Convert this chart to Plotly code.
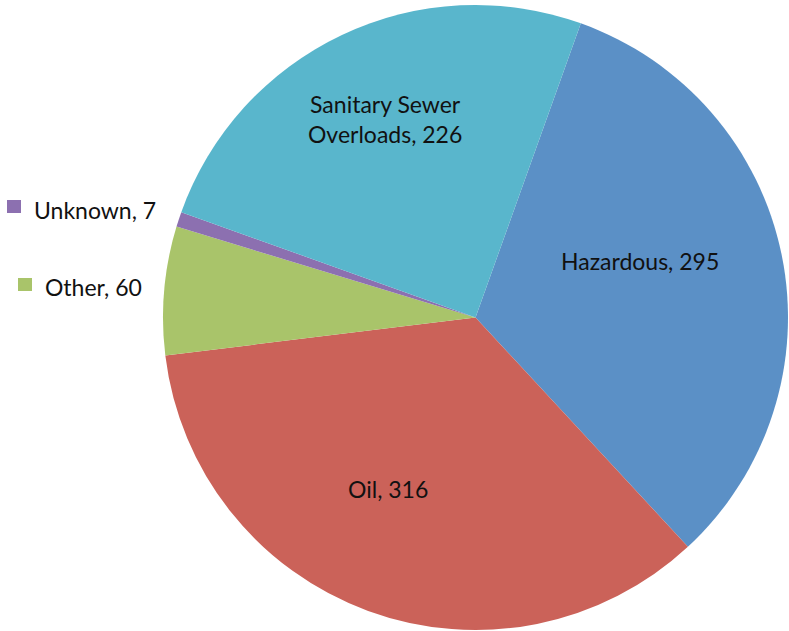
import plotly.graph_objects as go

categories = ["Hazardous", "Oil", "Other", "Unknown", "Sanitary Sewer Overloads"]
values = [295, 316, 60, 7, 226]
colors = ["#5B90C6", "#CB6259", "#A9C46A", "#8C70B0", "#59B6CC"]

W, H = 789, 631
FONT = "Lato, Carlito, Calibri, sans-serif"
FS = 23

fig = go.Figure(go.Pie(
    labels=categories,
    values=values,
    marker=dict(colors=colors, line=dict(width=0)),
    sort=False,
    direction="clockwise",
    rotation=19.7,
    textinfo="none",
    hoverinfo="label+value",
    domain=dict(x=[163 / W, 788 / W], y=[1 - 630 / H, 1 - 5 / H]),
    showlegend=False,
))

def px(x, y):
    return x / W, 1 - y / H

annotations = []
inside = [
    (640, 261, f"{categories[0]}, {values[0]}"),
    (388, 489, f"{categories[1]}, {values[1]}"),
    (385, 119, f"Sanitary Sewer<br>Overloads, {values[4]}"),
]
for x, y, t in inside:
    ax, ay = px(x, y)
    annotations.append(dict(x=ax, y=ay, xref="paper", yref="paper", text=t,
                            showarrow=False, xanchor="center", yanchor="middle",
                            font=dict(family=FONT, size=FS, color="#111111")))

outside = [
    (32, 210, 7, 200, f"{categories[3]}, {values[3]}", colors[3]),
    (43, 287, 18, 278, f"{categories[2]}, {values[2]}", colors[2]),
]
shapes = []
for tx, ty, sx, sy, t, c in outside:
    ax, ay = px(tx, ty)
    annotations.append(dict(x=ax, y=ay, xref="paper", yref="paper", text=t,
                            showarrow=False, xanchor="left", yanchor="middle",
                            font=dict(family=FONT, size=FS, color="#111111")))
    x0, y1 = px(sx, sy)
    x1, y0 = px(sx + 14, sy + 13)
    shapes.append(dict(type="rect", xref="paper", yref="paper", x0=x0, x1=x1,
                       y0=y0, y1=y1, fillcolor=c, line=dict(width=0)))

fig.update_layout(
    width=W, height=H,
    margin=dict(l=0, r=0, t=0, b=0),
    paper_bgcolor="#FFFFFF",
    plot_bgcolor="#FFFFFF",
    annotations=annotations,
    shapes=shapes,
)

fig.write_html("out.html")
